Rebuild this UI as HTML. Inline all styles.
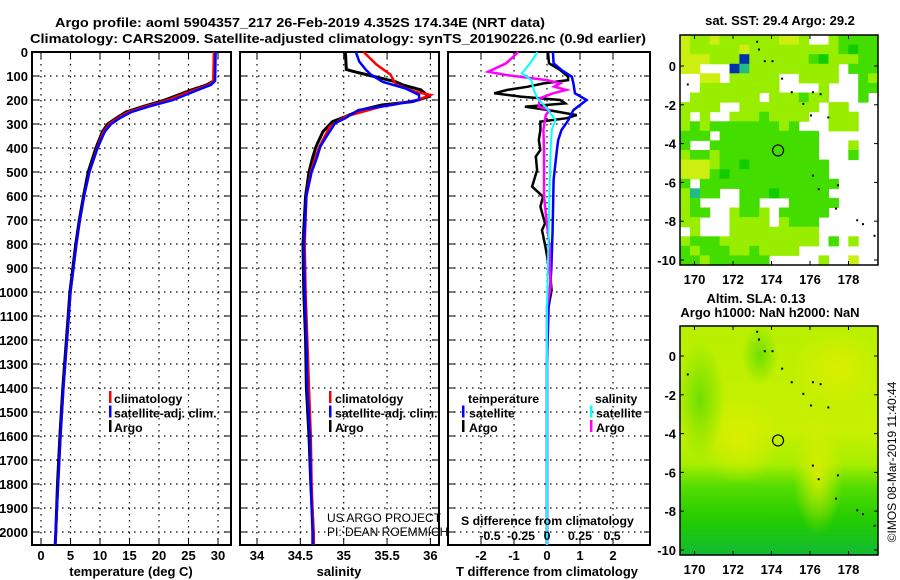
<!DOCTYPE html>
<html><head><meta charset="utf-8"><style>
body{margin:0;background:#fff}
svg{display:block;font-family:"Liberation Sans",sans-serif}
.b{font-weight:bold;font-size:13px}
.lg{font-weight:bold;font-size:12.3px}
.n{font-weight:normal;font-size:12px}
</style></head><body>
<svg id="fig" width="900" height="580" viewBox="0 0 900 580" xmlns="http://www.w3.org/2000/svg">
<rect width="900" height="580" fill="#fff"/>
<text class="b" x="55" y="27" textLength="490" lengthAdjust="spacingAndGlyphs" font-size="14">Argo profile: aoml 5904357_217 26-Feb-2019 4.352S 174.34E (NRT data)</text>
<text class="b" x="30" y="43" textLength="616" lengthAdjust="spacingAndGlyphs" font-size="14">Climatology: CARS2009. Satellite-adjusted climatology: synTS_20190226.nc (0.9d earlier)</text>
<g id="maps"></g>
<g id="panels"></g>
</svg>
<script>
// ---- depth axis ----
const depthTicks=[0,100,200,300,400,500,600,700,800,900,1000,1100,1200,1300,1400,1500,1600,1700,1800,1900,2000];
// temperature panel data
const tempTicks=[0,5,10,15,20,25,30];
const argoTDepth=[0,120,137,158,186,200,228,250,275,300,332,400,500,600,700,800,1000,1200,1400,1600,1800,2000,2054];
const argoT=[29.5,29.3,28.1,25.5,22.5,21.0,17.2,14.4,12.8,11.3,10.4,9.3,8.0,7.2,6.5,5.9,4.9,4.3,3.7,3.2,2.8,2.5,2.4];
const climT=[29.3,29.2,28.4,26.0,23.0,21.6,17.6,14.8,13.0,11.6,10.6,9.5,8.2,7.3,6.6,6.0,5.0,4.4,3.8,3.3,2.9,2.5,2.4];
const satT=[29.6,29.5,28.8,26.6,23.8,22.4,18.2,15.3,13.4,11.9,10.8,9.6,8.2,7.3,6.6,6.0,5.0,4.4,3.8,3.3,2.9,2.5,2.4];
// salinity panel data
const salTicks=[34,34.5,35,35.5,36];
const argoSDepth=[0,73,80,96,124,137,158,186,207,221,242,269,290,332,394,442,500,600,800,1000,1200,1400,1600,1800,2000,2054];
const argoS=[35.02,35.03,35.1,35.28,35.6,35.68,35.89,35.98,35.79,35.44,35.2,35.02,34.87,34.76,34.68,34.64,34.6,34.56,34.53,34.54,34.56,34.57,34.6,34.62,34.65,34.65];
const climSDepth=[0,53,94,135,165,179,200,228,269,311,394,442,500,600,800,1000,1200,1400,1600,1800,2000,2054];
const climS=[35.23,35.38,35.54,35.6,35.82,36.0,35.85,35.43,35.02,34.84,34.72,34.67,34.62,34.57,34.55,34.56,34.58,34.6,34.62,34.63,34.65,34.65];
const satSDepth=[0,40,76,96,124,153,179,200,221,242,276,297,353,394,442,500,600,800,1000,1200,1400,1600,1800,2000,2054];
const satS=[35.14,35.18,35.26,35.32,35.45,35.72,35.87,35.87,35.55,35.17,35.02,34.9,34.8,34.73,34.69,34.63,34.57,34.54,34.55,34.57,34.58,34.61,34.62,34.64,34.64];
// difference panel data
const diffTTicks=[-2,-1,0,1,2];
const diffSTickLabels=["-0.5","-0.25","0","0.25","0.5"];
const diffSTicks=[-0.5,-0.25,0,0.25,0.5];
const argoTdDepth=[0,47,75,103,117,131,145,158,172,186,200,214,228,242,263,276,290,325,367,408,436,492,561,603,644,714,742,811,922,992,1060];
const argoTd=[0.03,0.06,0.4,0.64,0.64,-0.1,-0.6,-1.2,-1.6,-0.8,0.4,0.55,-0.67,0.05,0.9,0.6,-0.2,-0.2,-0.25,-0.2,-0.34,-0.3,-0.45,-0.12,-0.2,-0.06,-0.15,-0.05,0.09,0.14,0.05];
const satTdDepth=[0,47,75,103,131,172,200,242,283,325,367,408,533,742,908,1061,1300,2054];
const satTd=[0.18,0.2,0.44,0.75,0.8,0.85,1.2,0.8,0.65,0.44,0.34,0.3,0.2,0.17,0.13,0.05,0.0,0.0];
const argoSdDepth=[0,47,82,96,117,131,144,158,172,193,228,242,263,290,325,408,603,811,978,1061,1300,2054];
const argoSd=[-0.24,-0.34,-0.49,-0.34,0.0,0.11,0.06,0.16,0.05,-0.06,-0.07,0.02,-0.01,-0.02,-0.03,-0.025,-0.025,0.02,0.03,0.0,0.0,0.0];
const satSdDepth=[0,47,89,117,158,193,235,283,325,408,603,1061,1500,2054];
const satSd=[-0.08,-0.14,-0.21,-0.13,-0.11,-0.08,0.0,0.07,0.04,0.03,0.02,0.0,0.0,0.0];
// maps
const mapLonTicks=[170,172,174,176,178];
const mapLatTicks=[0,-2,-4,-6,-8,-10];
const argoLon=174.34, argoLat=-4.352;
const sstGrid=[
"yllyllllllyyl..lgggg","ylllllylllllllllgdgg","yyylllbllllllgdlllgg","yy...btlllllllll.ggg",
"..yy.lllll..llll..gl","..llllllll....l...gg",".lllllll.lllgll...g.","llll..llllllll.ll...",
"l.l..lllgllll..lll..","lglggggggglg...lll..","ggg.gggggggggg......","g..ggggggggggg...l..",
"lgglgggggggggg...g..","yyylggdgggggggg.....","yyygdgggggggggg.....","g.gggggggggggggg....",
"ltgg..gggdggggg.....","lg....gg...ggggg....","lgg..lggl.ggggg.....","ll...llll.lggg......",
".l...lllllllll......","lgggllllllllll.g.l..","glgggllgllll........","gglgggggg.....l..y.."];

const NS="http://www.w3.org/2000/svg";
function mk(tag,attrs,parent,txt){const e=document.createElementNS(NS,tag);for(const k in attrs)e.setAttribute(k,attrs[k]);if(txt!==undefined)e.textContent=txt;parent.appendChild(e);return e;}
const panels=document.getElementById('panels');
const Y0=52,YB=545;
const yD=d=>Y0+d*0.24;
const xT=v=>41+v*5.9;
const xS=v=>257+(v-34)*86.7;
const xTd=v=>547+v*33;
const xSd=v=>547+v*120;

function frame(x0,x1,name,xticks,xf,labels){
  const g=mk('g',{},panels);
  
  
  depthTicks.forEach(d=>{const y=yD(d);
    mk('line',{x1:x0,x2:x1,y1:y,y2:y,stroke:'#000','stroke-dasharray':'1.5,4.5','stroke-width':1.2},g);
    mk('line',{x1:x0,x2:x0+6,y1:y,y2:y,stroke:'#000'},g);
    mk('line',{x1:x1-6,x2:x1,y1:y,y2:y,stroke:'#000'},g);});
  xticks.forEach((v,i)=>{const x=xf(v);
    mk('line',{x1:x,x2:x,y1:Y0,y2:YB,stroke:'#000','stroke-dasharray':'1.5,4.5','stroke-width':1.2},g);
    mk('line',{x1:x,x2:x,y1:Y0,y2:Y0+6,stroke:'#000'},g);
    mk('line',{x1:x,x2:x,y1:YB-6,y2:YB,stroke:'#000'},g);
    const t=mk('text',{x:x,y:560,'text-anchor':'middle',class:'b'},g,labels?labels[i]:String(v));
    
    });
  mk('rect',{x:x0,y:Y0,width:x1-x0,height:YB-Y0,fill:'none',stroke:'#000','stroke-width':2},g);
  return g;
}
function line(g,depths,vals,xf,color,name,w){
  const p=mk('polyline',{points:depths.map((d,i)=>xf(vals[i]).toFixed(1)+','+yD(d).toFixed(1)).join(' '),fill:'none',stroke:color,'stroke-width':w||2.5},g);
  
  
}
depthTicks.forEach(d=>{const t=mk('text',{x:28,y:yD(d)+5,'text-anchor':'end',class:'b'},panels,String(d));
  
  });

const g1=frame(32,231,'temperature-panel',tempTicks,xT);
line(g1,argoTDepth,argoT,xT,'#000','argo-temperature-line',3);
line(g1,argoTDepth,climT,xT,'#f00','climatology-temperature-line');
line(g1,argoTDepth,satT,xT,'#00f','satellite-temperature-line');
const g2=frame(240,439,'salinity-panel',salTicks,xS,["34","34.5","35","35.5","36"]);
line(g2,argoSDepth,argoS,xS,'#000','argo-salinity-line',3);
line(g2,climSDepth,climS,xS,'#f00','climatology-salinity-line');
line(g2,satSDepth,satS,xS,'#00f','satellite-salinity-line');
const g3=frame(448,650,'difference-panel',diffTTicks,xTd);
line(g3,argoTdDepth,argoTd,xTd,'#000','argo-t-difference-line',2.5);
line(g3,satTdDepth,satTd,xTd,'#00f','satellite-t-difference-line',2.5);
line(g3,argoSdDepth,argoSd,xSd,'#f0f','argo-s-difference-line',2.5);
line(g3,satSdDepth,satSd,xSd,'#0ff','satellite-s-difference-line',2);
const sPos=[490,521,547,580,612];
diffSTicks.forEach((v,i)=>{const t=mk('text',{x:sPos[i],y:540,'text-anchor':'middle',class:'lg'},g3,diffSTickLabels[i]);
  
  });

function txt(x,y,s,name,anchor,cls,extra){const t=mk('text',Object.assign({x:x,y:y,'text-anchor':anchor||'start',class:cls||'b'},extra||{}),panels,s);
  
  return t;}
function tick(x,y,c){mk('rect',{x:x,y:y-12,width:2.5,height:12,fill:c},panels);}
txt(131,576,'temperature (deg C)','x-axis-title-temperature','middle');
txt(339,576,'salinity','x-axis-title-salinity','middle');
txt(547,576,'T difference from climatology','x-axis-title-t-difference','middle');
txt(461,525,'S difference from climatology','s-difference-title','start','lg');
[['#f00','climatology'],['#00f','satellite-adj. clim.'],['#000','Argo']].forEach((e,i)=>{
  tick(109,403+i*14.5,e[0]);txt(114,403+i*14.5,e[1],'legend-entry-temperature','start','lg');
  tick(329,403+i*14.5,e[0]);txt(335,403+i*14.5,e[1],'legend-entry-salinity','start','lg');});
txt(468,403,'temperature','legend-header-temperature','start','lg');
txt(595,403,'salinity','legend-header-salinity','start','lg');
tick(462,417.5,'#00f');txt(469,417.5,'satellite','legend-entry-t-satellite','start','lg');
tick(462,432,'#000');txt(469,432,'Argo','legend-entry-t-argo','start','lg');
tick(590,417.5,'#0ff');txt(596,417.5,'satellite','legend-entry-s-satellite','start','lg');
tick(590,432,'#f0f');txt(596,432,'Argo','legend-entry-s-argo','start','lg');
txt(327,522,'US ARGO PROJECT','credit-project','start','n');
txt(327,536,'PI: DEAN ROEMMICH','credit-pi','start','n');

// ---- maps ----
const maps=document.getElementById('maps');
const mxL=680,mxR=878;
const xLon=l=>694.5+(l-170)*19.25;
const colors={y:'#ccee11',l:'#99ee00',g:'#44dd00',d:'#11cc00',b:'#0033aa',t:'#22bb88'};
function mapFrame(lat0,scale,name){
  const yLat=la=>lat0-la*scale;
  const g=mk('g',{},maps);
  
  
  return {g,yLat};
}
const T1=35,B1=265,T2=326,B2=555;
const m1=mapFrame(66,19.4,'sst-map');
const cw=(mxR-mxL)/20, ch=(B1-T1)/24;
sstGrid.forEach((row,r)=>{[...row].forEach((c,k)=>{if(c!=='.'){const cell=mk('rect',{x:(mxL+k*cw).toFixed(1),y:(T1+r*ch).toFixed(1),width:(cw+0.5).toFixed(1),height:(ch+0.5).toFixed(1),fill:colors[c]},m1.g);
  
  }});});
const m2=mapFrame(356,19.4,'sla-map');
const defs=mk('defs',{},maps);
const lg=mk('linearGradient',{id:'slag',x1:0,y1:0,x2:0,y2:1},defs);
[['0','#b8f000'],['0.45','#c8f000'],['0.6','#aaee00'],['0.7','#55dd00'],['0.85','#22cc00'],['1','#11bb33']].forEach(s=>mk('stop',{offset:s[0],'stop-color':s[1]},lg));
const rg=mk('radialGradient',{id:'slar',cx:0.5,cy:0.5,r:0.5},defs);
mk('stop',{offset:'0','stop-color':'#ddee00','stop-opacity':0.9},rg);mk('stop',{offset:'1','stop-color':'#ddee00','stop-opacity':0},rg);
const rg2=mk('radialGradient',{id:'slag2',cx:0.5,cy:0.5,r:0.5},defs);
mk('stop',{offset:'0','stop-color':'#66dd00','stop-opacity':0.9},rg2);mk('stop',{offset:'1','stop-color':'#66dd00','stop-opacity':0},rg2);
const sla=mk('rect',{x:mxL,y:T2,width:mxR-mxL,height:B2-T2,fill:'url(#slag)'},m2.g);


mk('ellipse',{cx:740,cy:440,rx:40,ry:45,fill:'url(#slar)'},m2.g);
mk('ellipse',{cx:838,cy:368,rx:45,ry:40,fill:'url(#slar)'},m2.g);
mk('ellipse',{cx:818,cy:475,rx:25,ry:60,fill:'url(#slar)'},m2.g);
mk('ellipse',{cx:700,cy:400,rx:25,ry:60,fill:'url(#slag2)'},m2.g);
mk('ellipse',{cx:760,cy:355,rx:18,ry:30,fill:'url(#slag2)'},m2.g);
[[m1,T1,B1],[m2,T2,B2]].forEach(([m,top,bot])=>{
  mk('rect',{x:mxL,y:top,width:mxR-mxL,height:bot-top,fill:'none',stroke:'#000','stroke-width':1.5},m.g);
  mapLonTicks.forEach(l=>{const x=xLon(l);
    mk('line',{x1:x,x2:x,y1:top,y2:top+4,stroke:'#000'},m.g);
    mk('line',{x1:x,x2:x,y1:bot-4,y2:bot,stroke:'#000'},m.g);
    const t=mk('text',{x:x,y:bot+19,'text-anchor':'middle',class:'b'},m.g,String(l));
    
    });
  mapLatTicks.forEach(la=>{const y=m.yLat(la);
    mk('line',{x1:mxL,x2:mxL+4,y1:y,y2:y,stroke:'#000'},m.g);
    mk('line',{x1:mxR-4,x2:mxR,y1:y,y2:y,stroke:'#000'},m.g);
    const t=mk('text',{x:676,y:y+5,'text-anchor':'end',class:'b'},m.g,String(la));
    
    });
  const c=mk('circle',{cx:xLon(argoLon),cy:m.yLat(argoLat),r:5.5,fill:'none',stroke:'#000','stroke-width':1.2},m.g);
  
  
  [[173.2,1.3],[173.3,0.9],[173.6,0.3],[174,0.3],[174.5,-0.6],[175,-1.3],[175.6,-1.9],[176.1,-1.3],[176.5,-1.4],[176,-2.5],[176.9,-2.6],[176.1,-5.6],[176.4,-6.3],[177.4,-6.1],[177.3,-7.3],[178.4,-7.9],[178.7,-8.1],[179.3,-8.7],[169.6,-0.9]].forEach(p=>{
    mk('rect',{x:xLon(p[0]),y:m.yLat(p[1]),width:2,height:2,fill:'#000'},m.g);});
});
txt(780,25,'sat. SST: 29.4 Argo: 29.2','sst-map-title','middle');
txt(756,303,'Altim. SLA: 0.13','sla-map-title','middle');
txt(770,317,'Argo h1000: NaN h2000: NaN','sla-map-subtitle','middle');
txt(0,0,'©IMOS 08-Mar-2019 11:40:44','imos-timestamp','middle','n',{'font-size':13,transform:'translate(896,462) rotate(-90)'});
</script>
</body></html>
